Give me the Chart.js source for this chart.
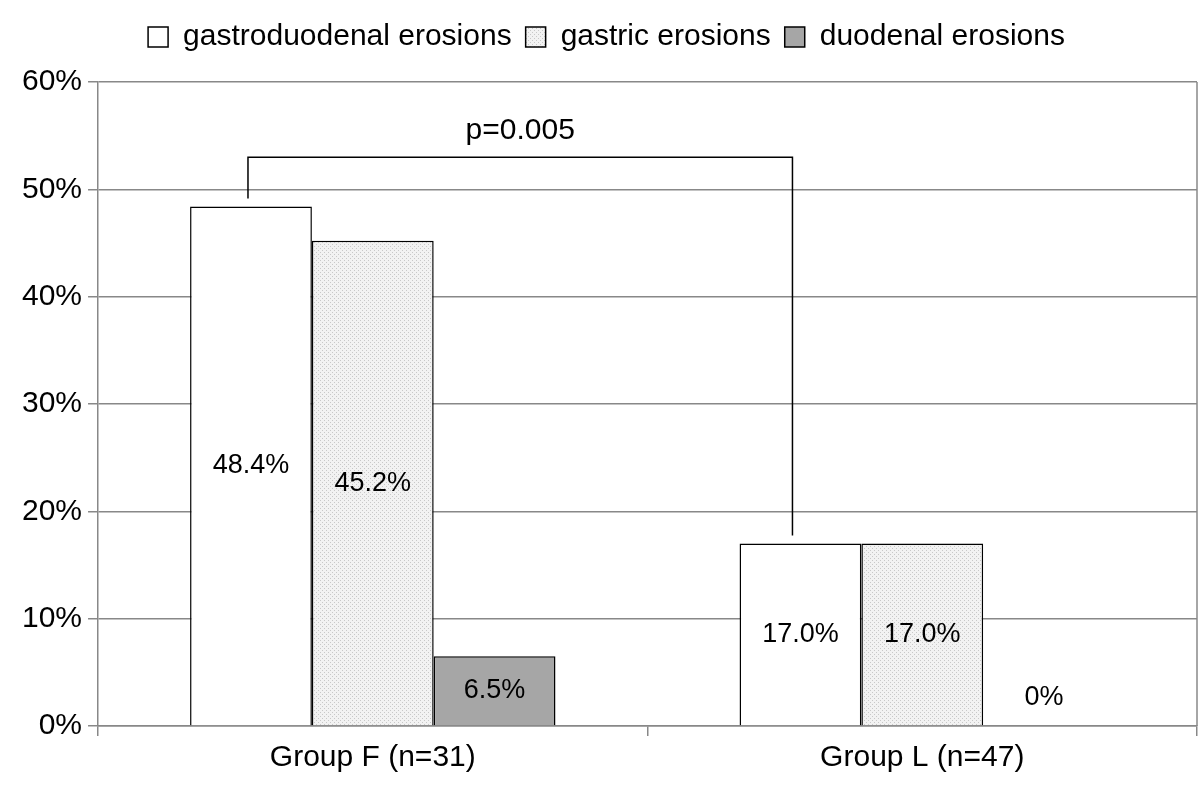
<!DOCTYPE html>
<html><head><meta charset="utf-8">
<script src="https://cdn.jsdelivr.net/npm/chart.js@4"></script>
<style>html,body{margin:0;background:#fff}#w{width:1200px;height:792px}</style>
</head><body><div id="w"><canvas id="c"></canvas></div>
<script>
const categories = ["Group F (n=31)", "Group L (n=47)"];
const seriesNames = ["gastroduodenal erosions", "gastric erosions", "duodenal erosions"];
const gastroduodenal = [0.484, 0.170];
const gastric = [0.452, 0.170];
const duodenal = [0.065, 0.0];
const valueLabels = [["48.4%", "17.0%"], ["45.2%", "17.0%"], ["6.5%", "0%"]];
const yTicks = [0, 0.1, 0.2, 0.3, 0.4, 0.5, 0.6];

function makePattern(){
  const p = document.createElement('canvas'); p.width = 4; p.height = 4;
  const g = p.getContext('2d');
  g.fillStyle = '#f2f2f2'; g.fillRect(0,0,4,4);
  g.fillStyle = '#c8c8c8'; g.fillRect(0,0,1,1); g.fillRect(2,2,1,1);
  return g.createPattern(p, 'repeat');
}
const FONT = "'Liberation Sans', Arial, sans-serif";
Chart.defaults.font.family = FONT;
Chart.defaults.color = '#000';

const legendFit = {
  id: 'legendFit',
  beforeInit(chart){
    const orig = chart.legend.fit;
    chart.legend.fit = function(){ orig.bind(chart.legend)(); this.height = 74; };
  }
};

const extras = {
  id: 'extras',
  afterDatasetsDraw(chart){
    const ctx = chart.ctx, a = chart.chartArea, y = chart.scales.y;
    ctx.save();
    ctx.strokeStyle = '#888'; ctx.lineWidth = 1.5;
    ctx.beginPath(); ctx.moveTo(a.right, a.top); ctx.lineTo(a.right, a.bottom); ctx.stroke();
    ctx.font = '27px ' + FONT; ctx.fillStyle = '#000'; ctx.textAlign = 'center'; ctx.textBaseline = 'middle';
    chart.data.datasets.forEach((ds, i) => {
      chart.getDatasetMeta(i).data.forEach((bar, j) => {
        const v = ds.data[j];
        const yy = v > 0 ? (bar.y + bar.base) / 2 : y.getPixelForValue(0) - 28;
        ctx.fillText(valueLabels[i][j], bar.x, yy);
      });
    });
    const b1 = chart.getDatasetMeta(0).data[0], b2 = chart.getDatasetMeta(0).data[1];
    const top = y.getPixelForValue(0.53);
    const x1 = b1.x - 3, x2 = b2.x - 8;
    ctx.strokeStyle = '#000'; ctx.lineWidth = 1.5;
    ctx.beginPath();
    ctx.moveTo(x1, b1.y - 8); ctx.lineTo(x1, top); ctx.lineTo(x2, top); ctx.lineTo(x2, b2.y - 8);
    ctx.stroke();
    ctx.font = '30px ' + FONT;
    ctx.fillText('p=0.005', (x1 + x2) / 2, top - 26);
    ctx.restore();
  }
};

new Chart(document.getElementById('c'), {
  type: 'bar',
  data: {
    labels: categories,
    datasets: [
      {label: seriesNames[0], data: gastroduodenal, backgroundColor: '#fff', borderColor: '#000', borderWidth: 1.5},
      {label: seriesNames[1], data: gastric, backgroundColor: makePattern(), borderColor: '#000', borderWidth: 1.5},
      {label: seriesNames[2], data: duodenal, backgroundColor: '#a6a6a6', borderColor: '#000', borderWidth: 1.5}
    ]
  },
  options: {
    responsive: true, maintainAspectRatio: false, animation: false,
    layout: {padding: {left: 16, right: 3, top: 8, bottom: 12}},
    categoryPercentage: 0.665, barPercentage: 1,
    plugins: {
      tooltip: {enabled: false},
      legend: {position: 'top', align: 'center',
        labels: {font: {size: 30}, boxWidth: 20, boxHeight: 20, padding: 14, color: '#000'}}
    },
    scales: {
      x: {grid: {offset: true, drawOnChartArea: false, color: '#888', tickLength: 10, lineWidth: 1.5},
          border: {color: '#888', width: 1.5},
          ticks: {font: {size: 30}, color: '#000', padding: 4}},
      y: {min: 0, max: 0.6, afterBuildTicks: s => { s.ticks = yTicks.map(v => ({value: v})); },
          grid: {color: '#888', lineWidth: 1.5, tickLength: 10},
          border: {color: '#888', width: 1.5},
          ticks: {font: {size: 30}, color: '#000', padding: 6, callback: v => Math.round(v * 100) + '%'}}
    }
  },
  plugins: [legendFit, extras]
});
</script></body></html>
